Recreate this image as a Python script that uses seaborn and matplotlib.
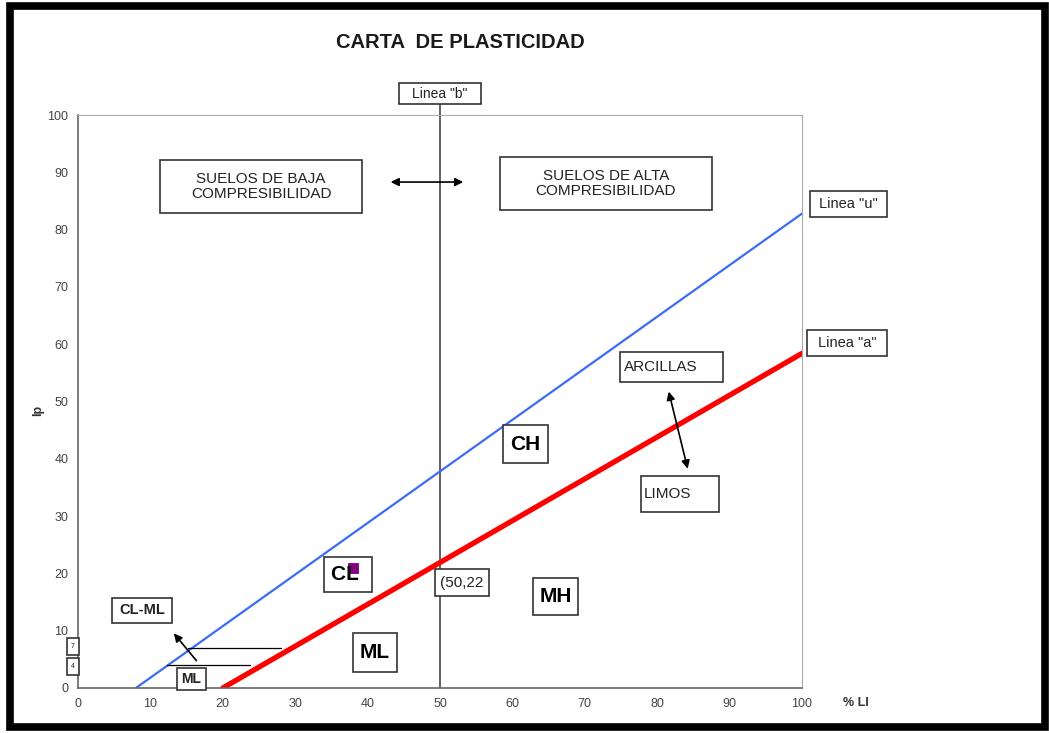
import matplotlib.pyplot as plt
import numpy as np
import pandas as pd
import seaborn as sns
from matplotlib.patches import Rectangle

# line "u" and line "a" end points (LL, Ip)
u_ll = [8, 100]
u_ip = [0, 82.8]
a_ll = [20, 100]
a_ip = [0, 58.4]
# line "b"
b_ll = [50, 50]
b_ip = [0, 104]
# CL-ML band limits
band_ll_top = [15.2, 28.0]
band_ip_top = [7, 7]
band_ll_low = [12.3, 23.8]
band_ip_low = [4, 4]
# sample point
sample_ll = [38]
sample_ip = [21]

ticks = [0, 10, 20, 30, 40, 50, 60, 70, 80, 90, 100]

sns.set_theme(style="white")
plt.rcParams["font.family"] = ["Liberation Sans", "DejaVu Sans"]

W, H = 1049, 733
X0, X1, Y0, Y1 = 78, 802, 688, 115

fig = plt.figure(figsize=(W / 100, H / 100), dpi=100)
fig.patch.set_facecolor("white")
ax = fig.add_axes([X0 / W, (H - Y0) / H, (X1 - X0) / W, (Y0 - Y1) / H])

lines = pd.concat([
    pd.DataFrame({"ll": u_ll, "ip": u_ip, "linea": "u"}),
    pd.DataFrame({"ll": a_ll, "ip": a_ip, "linea": "a"}),
])
sns.lineplot(data=lines[lines.linea == "u"], x="ll", y="ip", color="#3b6cf5",
             linewidth=1.6, ax=ax, legend=False)
sns.lineplot(data=lines[lines.linea == "a"], x="ll", y="ip", color="#ff0000",
             linewidth=3.8, ax=ax, legend=False)
ax.plot(b_ll, b_ip, color="#555555", linewidth=1.3, clip_on=False, zorder=1)
ax.plot(band_ll_top, band_ip_top, color="black", linewidth=0.9)
ax.plot(band_ll_low, band_ip_low, color="black", linewidth=0.9)
sns.scatterplot(x=sample_ll, y=sample_ip, marker="s", s=55, color="#800080",
                edgecolor="#800080", ax=ax, zorder=8)

ax.set_xlim(0, 100)
ax.set_ylim(0, 100)
ax.set_xticks(ticks)
ax.set_yticks(ticks)
ax.tick_params(axis="both", direction="out", length=4, width=0.8, colors="#888888",
               labelcolor="#444444", labelsize=9, pad=3)
for side in ["left", "bottom"]:
    ax.spines[side].set_color("#666666")
    ax.spines[side].set_linewidth(1.2)
for side in ["top", "right"]:
    ax.spines[side].set_color("#aaaaaa")
    ax.spines[side].set_linewidth(0.8)
ax.set_xlabel("")
ax.set_ylabel("")


def px(x, y):
    # pixel position in the picture -> data coordinates
    return (x - X0) / (X1 - X0) * 100, (Y0 - y) / (Y0 - Y1) * 100


def label(box, text, size=10.5, weight="normal", color="#222222", align="center"):
    l, r, t, b = box
    xl, yb = px(l, b)
    xr, yt = px(r, t)
    ax.add_patch(Rectangle((xl, yb), xr - xl, yt - yb, facecolor="white",
                           edgecolor="#333333", linewidth=1.2, clip_on=False, zorder=7))
    if align == "left":
        tx = xl + (xr - xl) * 0.04
    else:
        tx = (xl + xr) / 2
    ax.text(tx, (yb + yt) / 2, text, ha=align, va="center", fontsize=size,
            fontweight=weight, color=color, clip_on=False, zorder=9, linespacing=1.15)


label((160, 362, 160, 213), "SUELOS DE BAJA\nCOMPRESIBILIDAD", size=11)
label((500, 712, 157, 210), "SUELOS DE ALTA\nCOMPRESIBILIDAD", size=11)
label((399, 481, 83, 104), 'Linea "b"', size=10)
label((810, 887, 191, 217), 'Linea "u"', size=10.5)
label((807, 887, 330, 356), 'Linea "a"', size=10.5)
label((620, 723, 352, 382), "ARCILLAS", size=11, align="left")
label((641, 719, 476, 512), "LIMOS", size=11, align="left")
label((503, 548, 425, 463), "CH", size=15, weight="bold", color="black")
label((324, 372, 557, 592), "CL ", size=15, weight="bold", color="black")
label((353, 397, 633, 672), "ML", size=15, weight="bold", color="black")
label((533, 578, 578, 615), "MH", size=15, weight="bold", color="black")
label((435, 489, 569, 596), "(50,22", size=11)
label((112, 172, 598, 623), "CL-ML", size=10.5, weight="bold")
label((177, 206, 668, 690), "ML", size=10, weight="bold")
label((67, 79, 638, 655), "7", size=5)
label((67, 79, 658, 675), "4", size=5)

arrow = dict(arrowstyle="<|-|>", color="black", linewidth=1.2, mutation_scale=12)
ax.annotate("", xy=(42.8, 88.3), xytext=(53.6, 88.3), arrowprops=arrow)
ax.annotate("", xy=(81.5, 52.2), xytext=(84.3, 37.8), arrowprops=arrow)
ax.annotate("", xy=(13.0, 9.9), xytext=(16.6, 4.4),
            arrowprops=dict(arrowstyle="-|>", color="black", linewidth=1.2, mutation_scale=12))

ax.text(107.5, -2.6, "% LI", ha="center", va="center", fontsize=9, fontweight="bold",
        color="#333333", clip_on=False)
fig.text(38 / W, 1 - 410 / H, "Ip", rotation=90, ha="center", va="center",
         fontsize=9, fontweight="bold", color="#333333")
fig.text(460 / W, 1 - 42 / H, "CARTA  DE PLASTICIDAD", ha="center", va="center",
         fontsize=14.5, fontweight="bold", color="#1a1a1a")

fig.patches.append(Rectangle((10 / W, 6 / H), 1035 / W, 721 / H,
                             transform=fig.transFigure, fill=False,
                             edgecolor="black", linewidth=5.5))

fig.savefig("out.png", dpi=100)
